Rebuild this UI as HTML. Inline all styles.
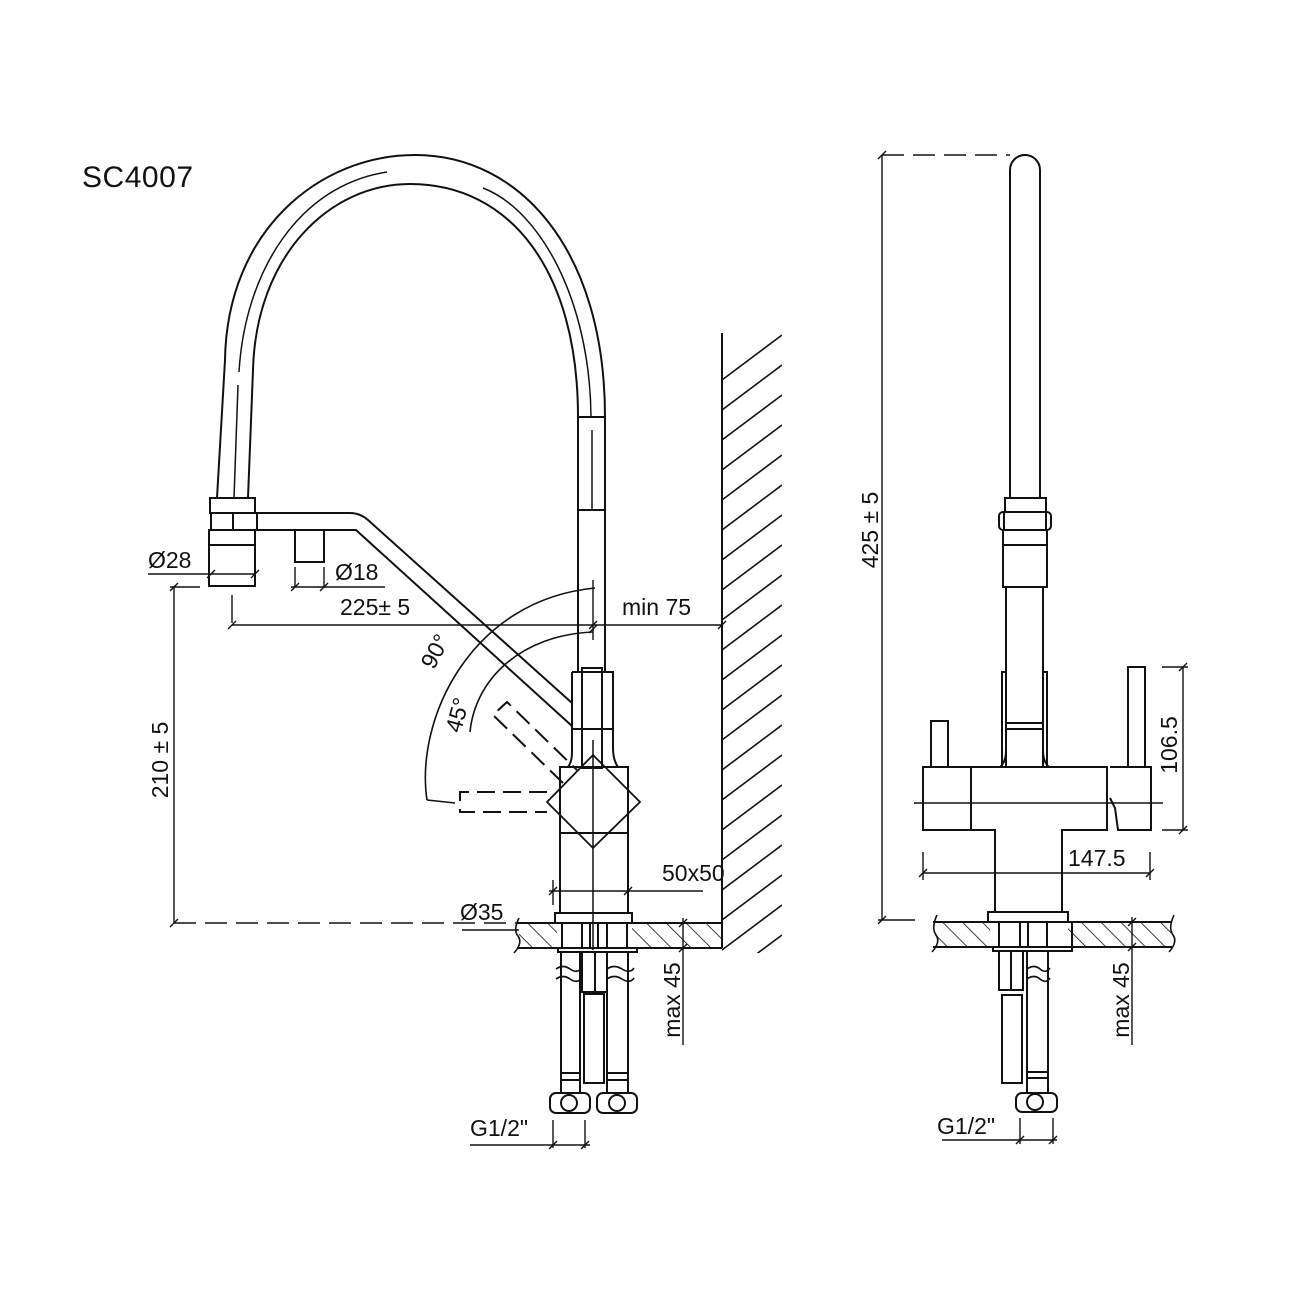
<!DOCTYPE html>
<html><head><meta charset="utf-8"><style>
html,body{margin:0;padding:0;background:#fff}
svg{display:block}
text{font-family:"Liberation Sans",sans-serif;fill:#111}
</style></head><body>
<svg width="1300" height="1300" viewBox="0 0 1300 1300" xmlns="http://www.w3.org/2000/svg">
<defs>
<pattern id="h1" patternUnits="userSpaceOnUse" width="14" height="14" patternTransform="rotate(-45)">
<line x1="0" y1="0" x2="0" y2="14" stroke="#111" stroke-width="1.6"/></pattern>
<clipPath id="wallclip"><rect x="722" y="333" width="60" height="620"/></clipPath>
</defs>
<rect width="1300" height="1300" fill="#fff"/>
<text x="82" y="187" font-size="30" textLength="111">SC4007</text>

<g fill="none" stroke="#111" stroke-width="2">
<path d="M217,498 L225,360 C227,230 320,155 415,155 C520,155 605,250 605,417 L605,672"/>
<path d="M248,498 L253,370 C256,255 330,184 410,184 C510,184 578,270 578,417 L578,672"/>
<path d="M234,498 L238,385 M239,372 C245,270 300,185 387,172" stroke-width="1.5"/>
<path d="M483,188 C540,210 590,300 591,417" stroke-width="1.5"/>
<line x1="578" y1="417" x2="605" y2="417"/>
<line x1="578" y1="510" x2="605" y2="510"/>
<line x1="592" y1="430" x2="592" y2="510" stroke-width="1.5"/>
<rect x="210" y="498" width="45" height="15"/>
<rect x="211" y="513" width="46" height="17"/>
<line x1="233" y1="513" x2="233" y2="530"/>
<rect x="209" y="530" width="46" height="56"/>
<line x1="209" y1="545" x2="255" y2="545"/>
<rect x="295" y="530" width="29" height="32"/>
<path d="M257,513 L350,513 Q360,513 368,520 L572,703"/>
<path d="M257,530 L356,530 L572,726"/>
<path d="M572,672 L613,672 L613,748 Q613,760 618,767 M572,672 L572,752 Q572,762 568,767"/>
<rect x="582" y="668" width="20" height="100"/>
<line x1="572" y1="729" x2="613" y2="729"/>
<line x1="593" y1="740" x2="593" y2="950" stroke-width="1.5"/>
<rect x="560" y="767" width="68" height="146"/>
<line x1="560" y1="833" x2="628" y2="833"/>
<path d="M593,755 L640,802 L593,848 L547,802 Z" stroke-width="1.8"/>
<path d="M547,792 L460,792 L460,812 L547,812" stroke-dasharray="18,8"/>
<path d="M563,783 L493,715 L507,702 L577,770" stroke-dasharray="18,8"/>
<path d="M427,800 C415,720 470,600 595,588" stroke-width="1.6"/>
<path d="M470,732 C475,680 520,635 593,632" stroke-width="1.6"/>
<path d="M427,800 L455,803" stroke-width="1.6"/>
<rect x="555" y="913" width="77" height="10"/>
<line x1="517" y1="923" x2="722" y2="923"/>
<line x1="517" y1="948" x2="722" y2="948"/>
<path d="M519,918 Q513,930 518,936 Q523,943 514,953" stroke-width="1.6"/>
<rect x="558" y="948" width="79" height="4"/>
<line x1="562" y1="923" x2="562" y2="948"/><line x1="582" y1="923" x2="582" y2="948"/>
<line x1="590" y1="923" x2="590" y2="948"/><line x1="598" y1="923" x2="598" y2="948"/><line x1="607" y1="923" x2="607" y2="948"/><line x1="627" y1="923" x2="627" y2="948"/>
<line x1="561" y1="952" x2="561" y2="1093"/><line x1="580" y1="952" x2="580" y2="1093"/>
<line x1="607" y1="952" x2="607" y2="1093"/><line x1="628" y1="952" x2="628" y2="1093"/>
<rect x="561" y="1073" width="19" height="7"/><rect x="607" y="1073" width="21" height="7"/>
<rect x="582" y="952" width="25" height="40"/><line x1="595" y1="952" x2="595" y2="992"/>
<rect x="584" y="994" width="20" height="89"/>
<path d="M556,969 Q563,964 570,969 Q577,974 582,968 M556,979 Q563,974 570,979 Q577,984 582,978" stroke-width="1.6"/>
<path d="M607,969 Q614,964 622,969 Q630,974 634,968 M607,979 Q614,974 622,979 Q630,984 634,978" stroke-width="1.6"/>
<rect x="550" y="1093" width="40" height="20" rx="6"/><circle cx="569" cy="1103" r="8"/>
<rect x="597" y="1093" width="40" height="20" rx="6"/><circle cx="617" cy="1103" r="8"/>
<line x1="722" y1="333" x2="722" y2="948"/>
</g>
<g stroke="#111" stroke-width="1.6">
<g clip-path="url(#wallclip)">
<line x1="722" y1="380" x2="782" y2="335"/><line x1="722" y1="410" x2="782" y2="365"/><line x1="722" y1="440" x2="782" y2="395"/><line x1="722" y1="470" x2="782" y2="425"/><line x1="722" y1="500" x2="782" y2="455"/><line x1="722" y1="530" x2="782" y2="485"/><line x1="722" y1="560" x2="782" y2="515"/><line x1="722" y1="590" x2="782" y2="545"/><line x1="722" y1="620" x2="782" y2="575"/><line x1="722" y1="650" x2="782" y2="605"/><line x1="722" y1="680" x2="782" y2="635"/><line x1="722" y1="710" x2="782" y2="665"/><line x1="722" y1="740" x2="782" y2="695"/><line x1="722" y1="770" x2="782" y2="725"/><line x1="722" y1="800" x2="782" y2="755"/><line x1="722" y1="830" x2="782" y2="785"/><line x1="722" y1="860" x2="782" y2="815"/><line x1="722" y1="890" x2="782" y2="845"/><line x1="722" y1="920" x2="782" y2="875"/><line x1="722" y1="950" x2="782" y2="905"/><line x1="735" y1="970" x2="782" y2="935"/>
</g>
</g>
<rect x="519" y="924" width="38" height="23" fill="url(#h1)"/>
<rect x="632" y="924" width="89" height="23" fill="url(#h1)"/>
<rect x="936" y="923" width="54" height="23" fill="url(#h1)"/>
<rect x="1068" y="923" width="103" height="23" fill="url(#h1)"/>

<g fill="none" stroke="#111" stroke-width="1.4">
<line x1="148" y1="574" x2="255" y2="574"/><path d="M207,578 L215,570 M251,578 L259,570"/>
<line x1="295" y1="567" x2="295" y2="587"/><line x1="324" y1="567" x2="324" y2="587"/>
<line x1="291" y1="587" x2="385" y2="587"/><path d="M291,591 L299,583 M320,591 L328,583"/>
<line x1="232" y1="595" x2="232" y2="623"/>
<line x1="232" y1="625" x2="722" y2="625"/>
<path d="M228,629 L236,621 M589,629 L597,621 M589,633 L597,625 M718,629 L726,621"/>
<line x1="593" y1="580" x2="593" y2="640"/>
<line x1="174" y1="587" x2="174" y2="923"/><line x1="170" y1="587" x2="200" y2="587"/>
<path d="M170,591 L178,583 M170,927 L178,919"/>
<line x1="174" y1="923" x2="560" y2="923" stroke-dasharray="22,9"/>
<line x1="549" y1="891" x2="703" y2="891"/><line x1="553" y1="880" x2="553" y2="905"/><line x1="628" y1="880" x2="628" y2="905"/>
<path d="M549,895 L557,887 M624,895 L632,887"/>
<line x1="462" y1="930" x2="519" y2="930"/>
<line x1="683" y1="918" x2="683" y2="1045"/><path d="M679,927 L687,919 M679,952 L687,944"/>
<line x1="470" y1="1145" x2="590" y2="1145"/><line x1="553" y1="1120" x2="553" y2="1148"/><line x1="585" y1="1120" x2="585" y2="1148"/>
<path d="M549,1149 L557,1141 M581,1149 L589,1141"/>
</g>
<g font-size="23">
<text x="148" y="568">Ø28</text>
<text x="335" y="580">Ø18</text>
<text x="340" y="615">225± 5</text>
<text x="622" y="615">min 75</text>
<text x="662" y="881">50x50</text>
<text x="460" y="920">Ø35</text>
<text x="470" y="1136">G1/2"</text>
<text transform="translate(168,760) rotate(-90)" text-anchor="middle">210 ± 5</text>
<text transform="translate(680,1000) rotate(-90)" text-anchor="middle">max 45</text>
<text transform="translate(442,655) rotate(-62)" text-anchor="middle">90°</text>
<text transform="translate(465,717) rotate(-75)" text-anchor="middle">45°</text>
</g>

<g fill="none" stroke="#111" stroke-width="2">
<path d="M1010,498 L1010,170 A15,15 0 0 1 1040,170 L1040,498"/>
<rect x="1005" y="498" width="41" height="14"/>
<rect x="999" y="512" width="52" height="18" rx="4"/>
<line x1="1004" y1="512" x2="1004" y2="530"/><line x1="1046" y1="512" x2="1046" y2="530"/>
<rect x="1003" y="530" width="44" height="57"/><line x1="1003" y1="545" x2="1047" y2="545"/>
<line x1="1006" y1="587" x2="1006" y2="767"/><line x1="1043" y1="587" x2="1043" y2="767"/>
<path d="M1002,767 L1002,672 L1006,672 M1047,767 L1047,672 L1043,672"/>
<path d="M1006,750 Q1006,762 1000,767 M1043,750 Q1043,762 1049,767"/>
<rect x="1006" y="723" width="37" height="6"/>
<rect x="931" y="721" width="17" height="46"/>
<rect x="1128" y="667" width="17" height="100"/>
<path d="M995,913 L995,830 L923,830 L923,767 L1107,767 L1107,830 L1062,830 L1062,913"/>
<line x1="971" y1="767" x2="971" y2="830"/>
<path d="M1110,767 L1151,767 L1151,830 L1118,830 L1115,808 L1110,798"/>
<line x1="1107" y1="767" x2="1107" y2="830"/>
<rect x="988" y="912" width="80" height="10"/>
<line x1="933" y1="922" x2="1172" y2="922"/><line x1="933" y1="947" x2="1172" y2="947"/>
<path d="M937,915 Q931,928 936,935 Q941,942 932,952 M1174,915 Q1168,928 1173,935 Q1178,942 1169,952" stroke-width="1.6"/>
<rect x="993" y="947" width="79" height="4"/>
<line x1="999" y1="922" x2="999" y2="947"/><line x1="1020" y1="922" x2="1020" y2="947"/><line x1="1028" y1="922" x2="1028" y2="947"/><line x1="1047" y1="922" x2="1047" y2="947"/><line x1="1072" y1="922" x2="1072" y2="947"/>
<rect x="999" y="951" width="24" height="39"/><line x1="1011" y1="951" x2="1011" y2="990"/>
<rect x="1002" y="995" width="20" height="88"/>
<line x1="1027" y1="951" x2="1027" y2="1093"/><line x1="1048" y1="951" x2="1048" y2="1093"/>
<rect x="1027" y="1072" width="21" height="6"/>
<path d="M1027,969 Q1034,964 1040,969 Q1046,974 1050,968 M1027,979 Q1034,974 1040,979 Q1046,984 1050,978" stroke-width="1.6"/>
<rect x="1016" y="1093" width="41" height="19" rx="6"/><circle cx="1035" cy="1102" r="8"/>
</g>
<g fill="none" stroke="#111" stroke-width="1.4">
<line x1="914" y1="803" x2="1163" y2="803"/>
<line x1="882" y1="155" x2="882" y2="920"/><line x1="882" y1="155" x2="1010" y2="155" stroke-dasharray="22,9"/>
<line x1="878" y1="920" x2="915" y2="920"/><path d="M878,159 L886,151 M878,924 L886,916"/>
<line x1="1183" y1="667" x2="1183" y2="830"/><line x1="1162" y1="667" x2="1188" y2="667"/><line x1="1162" y1="830" x2="1188" y2="830"/>
<path d="M1179,671 L1187,663 M1179,834 L1187,826"/>
<line x1="923" y1="873" x2="1150" y2="873"/><line x1="923" y1="852" x2="923" y2="880"/><line x1="1150" y1="852" x2="1150" y2="880"/>
<path d="M919,877 L927,869 M1146,877 L1154,869"/>
<line x1="1132" y1="917" x2="1132" y2="1045"/><path d="M1128,926 L1136,918 M1128,951 L1136,943"/>
<line x1="942" y1="1140" x2="1057" y2="1140"/><line x1="1020" y1="1118" x2="1020" y2="1144"/><line x1="1053" y1="1118" x2="1053" y2="1144"/>
<path d="M1016,1144 L1024,1136 M1049,1144 L1057,1136"/>
</g>
<g font-size="23">
<text x="1068" y="866">147.5</text>
<text x="937" y="1134">G1/2"</text>
<text transform="translate(1177,745) rotate(-90)" text-anchor="middle">106.5</text>
<text transform="translate(878,530) rotate(-90)" text-anchor="middle">425 ± 5</text>
<text transform="translate(1129,1000) rotate(-90)" text-anchor="middle">max 45</text>
</g>
</svg>
</body></html>
